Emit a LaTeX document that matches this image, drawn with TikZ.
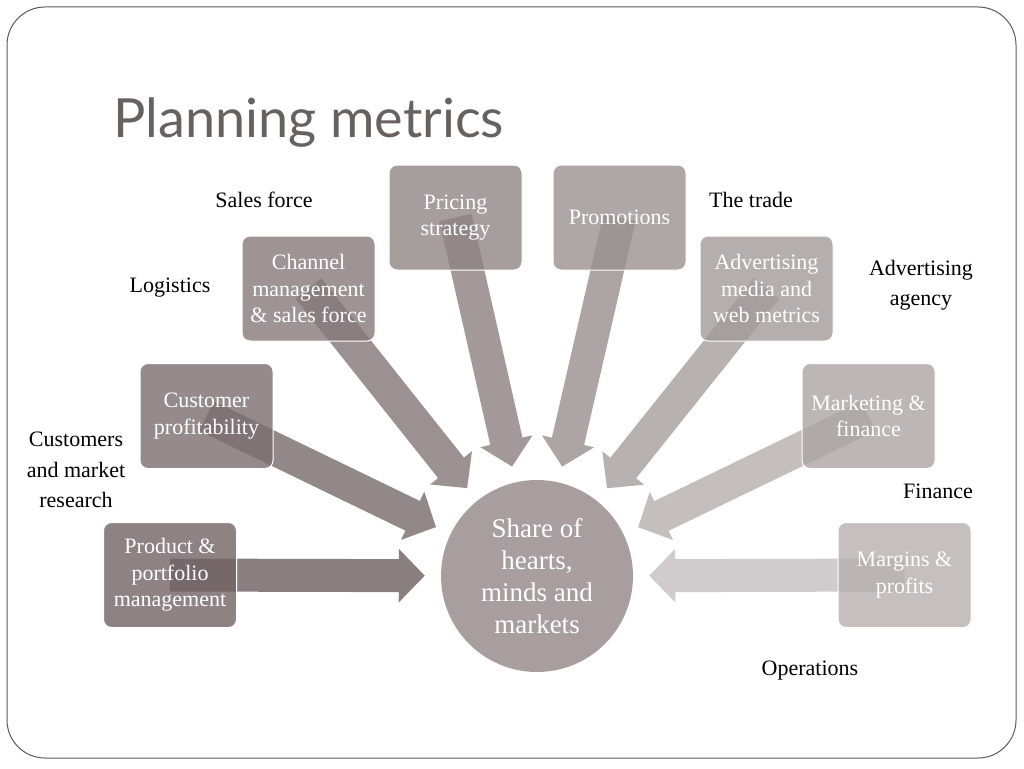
\documentclass[tikz,border=0pt]{standalone}
\usepackage{fontspec}
\setmainfont{Liberation Serif}
\newfontfamily\titlefont{Lato}
\usetikzlibrary{arrows.meta,backgrounds,calc}
\definecolor{framec}{RGB}{90,90,90}
\definecolor{titlec}{RGB}{104,97,98}
\definecolor{circc}{RGB}{168,158,159}
\definecolor{b1}{RGB}{114,99,100}
\definecolor{b2}{RGB}{124,110,111}
\definecolor{b3}{RGB}{134,121,122}
\definecolor{b4}{RGB}{144,132,133}
\definecolor{b5}{RGB}{154,144,145}
\definecolor{b6}{RGB}{162,154,155}
\definecolor{b7}{RGB}{172,164,165}
\definecolor{b8}{RGB}{182,175,176}
\definecolor{a1}{RGB}{138,127,128}
\definecolor{a2}{RGB}{146,136,137}
\definecolor{a3}{RGB}{155,145,146}
\definecolor{a4}{RGB}{163,153,154}
\definecolor{a5}{RGB}{172,164,165}
\definecolor{a6}{RGB}{184,177,178}
\definecolor{a7}{RGB}{196,190,191}
\definecolor{a8}{RGB}{208,203,204}
\tikzset{
  boxbase/.style={rounded corners=8pt, minimum width=133pt, minimum height=105pt,
    draw=white, line width=1pt, fill opacity=0.8, text opacity=1, text=white, align=center,
    font=\fontsize{22}{26.5}\selectfont, inner sep=0pt},
  lbl/.style={font=\fontsize{22}{30.5}\selectfont, align=center, inner sep=0pt, text=black},
  arr/.style={line width=33pt, -{Triangle[width=52pt,length=26pt]}, shorten >=16pt},
}
\begin{document}
\begin{tikzpicture}[x=1pt,y=-1pt]
\useasboundingbox (0,0) rectangle (1024,768);
\draw[framec, line width=1pt, rounded corners=38pt] (7,7) rectangle (1016,758);
\node[anchor=base west, inner sep=0pt, font=\titlefont\fontsize{54}{60}\selectfont, text=titlec] (title) at (113,137) {Planning metrics};

\node[circle, minimum size=192pt, fill=circc, text=white, align=center, inner sep=0pt,
  font=\fontsize{27}{32}\selectfont] (c) at (537,576) {Share of\\hearts,\\minds and\\markets};

\node[boxbase, fill=b1] (n1) at (170,575) {Product \&\\portfolio\\management};
\node[boxbase, fill=b2] (n2) at (206.5,416) {Customer\\profitability};
\node[boxbase, fill=b3] (n3) at (308.5,288.5) {Channel\\management\\\& sales force};
\node[boxbase, fill=b4] (n4) at (455.5,217.5) {Pricing\\strategy};
\node[boxbase, fill=b5] (n5) at (619.5,217.5) {Promotions};
\node[boxbase, fill=b6] (n6) at (766.5,288.5) {Advertising\\media and\\web metrics};
\node[boxbase, fill=b7] (n7) at (868.5,416) {Marketing \&\\finance};
\node[boxbase, fill=b8] (n8) at (904.5,575) {Margins \&\\profits};

\begin{scope}[on background layer]
\draw[arr, a1] (n1.center) -- (c);
\draw[arr, a2] (n2.center) -- (c);
\draw[arr, a3] (n3.center) -- (c);
\draw[arr, a4] (n4.center) -- (c);
\draw[arr, a5] (n5.center) -- (c);
\draw[arr, a6] (n6.center) -- (c);
\draw[arr, a7] (n7.center) -- (c);
\draw[arr, a8] (n8.center) -- (c);
\end{scope}

\node[lbl] (l1) at (264,200) {Sales force};
\node[lbl] (l2) at (170,288) {Logistics};
\node[lbl] (l3) at (76,470) {Customers\\and market\\research};
\node[lbl] (l4) at (751,200) {The trade};
\node[lbl] (l5) at (921,285) {Advertising\\agency};
\node[lbl] (l6) at (938,491) {Finance};
\node[lbl] (l7) at (810,671) {Operations};
\end{tikzpicture}
\end{document}
